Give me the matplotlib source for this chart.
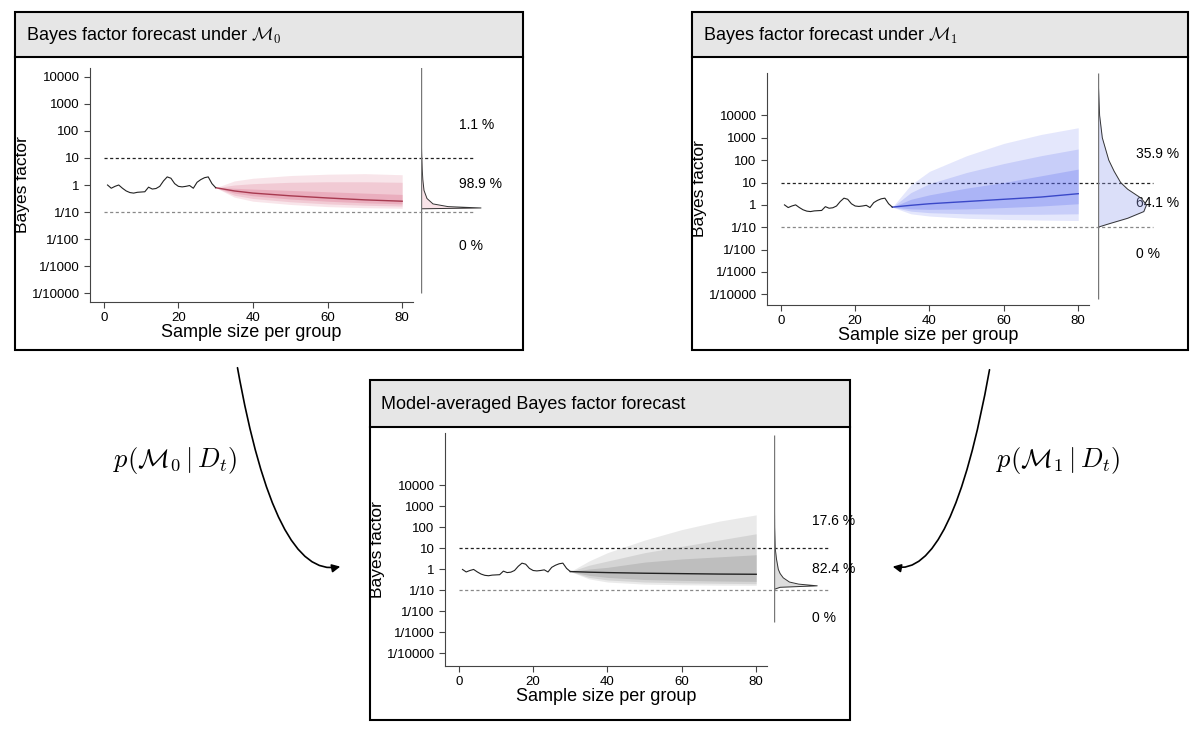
import numpy as np
import matplotlib
matplotlib.use('Agg')
import matplotlib.pyplot as plt
from matplotlib.patches import Rectangle, FancyArrowPatch

plt.rcParams['font.family'] = ['Liberation Sans', 'DejaVu Sans']
plt.rcParams['mathtext.fontset'] = 'cm'

W, H = 1200, 729

# observed Bayes factor path (log10), n = 1..30
n_obs = np.arange(1, 31)
bf_obs = [0.0, -0.12, -0.05, 0.0, -0.12, -0.22, -0.28, -0.3, -0.27, -0.26, -0.25, -0.08,
          -0.15, -0.13, -0.05, 0.15, 0.3, 0.25, 0.05, -0.05, -0.07, -0.05, -0.02, -0.12,
          0.1, 0.2, 0.27, 0.3, 0.05, -0.1]

# forecast grid
n_fc = [30, 35, 40, 50, 60, 70, 80]

# under M0 (log10 BF)
m0_med = [-0.1, -0.22, -0.3, -0.4, -0.48, -0.55, -0.6]
m0_bands = [([-0.1, -0.45, -0.6, -0.72, -0.8, -0.84, -0.86], [-0.1, 0.15, 0.25, 0.35, 0.4, 0.42, 0.38]),
            ([-0.1, -0.38, -0.5, -0.62, -0.7, -0.75, -0.78], [-0.1, 0.0, 0.05, 0.1, 0.12, 0.12, 0.1]),
            ([-0.1, -0.3, -0.4, -0.52, -0.6, -0.66, -0.7], [-0.1, -0.12, -0.15, -0.2, -0.25, -0.3, -0.35])]
m0_dy = [-0.88, -0.85, -0.8, -0.7, -0.5, -0.2, 0.2, 0.6, 1.2, 2.3]
m0_dd = [0.0, 1.0, 0.45, 0.2, 0.1, 0.05, 0.03, 0.02, 0.01, 0.0]

# under M1
m1_med = [-0.1, -0.02, 0.05, 0.15, 0.25, 0.35, 0.5]
m1_bands = [([-0.1, -0.4, -0.5, -0.6, -0.65, -0.68, -0.7], [-0.1, 0.9, 1.5, 2.2, 2.75, 3.15, 3.45]),
            ([-0.1, -0.28, -0.35, -0.4, -0.42, -0.42, -0.4], [-0.1, 0.55, 0.95, 1.45, 1.85, 2.2, 2.5]),
            ([-0.1, -0.18, -0.2, -0.18, -0.12, -0.05, 0.05], [-0.1, 0.25, 0.45, 0.75, 1.0, 1.3, 1.6])]
m1_dy = [-1.0, -0.85, -0.6, -0.3, 0.0, 0.3, 0.7, 1.0, 1.5, 2.0, 3.0, 4.0, 5.8]
m1_dd = [0.0, 0.2, 0.55, 0.85, 0.9, 0.8, 0.55, 0.42, 0.3, 0.2, 0.08, 0.03, 0.0]

# model-averaged
av_med = [-0.1, -0.13, -0.15, -0.18, -0.2, -0.22, -0.23]
av_bands = [([-0.1, -0.45, -0.6, -0.7, -0.73, -0.75, -0.76], [-0.1, 0.4, 0.8, 1.4, 1.9, 2.3, 2.6]),
            ([-0.1, -0.38, -0.5, -0.6, -0.64, -0.66, -0.68], [-0.1, 0.2, 0.4, 0.8, 1.1, 1.4, 1.7]),
            ([-0.1, -0.28, -0.38, -0.48, -0.52, -0.55, -0.57], [-0.1, 0.02, 0.1, 0.35, 0.5, 0.6, 0.7])]
av_dy = [-1.6, -0.95, -0.85, -0.78, -0.7, -0.6, -0.4, -0.2, 0.0, 0.5, 1.0, 2.0, 6.3]
av_dd = [0.0, 0.0, 0.1, 0.7, 0.4, 0.25, 0.15, 0.1, 0.07, 0.04, 0.02, 0.01, 0.0]

ticks = [4, 3, 2, 1, 0, -1, -2, -3, -4]
tick_labels = ['10000', '1000', '100', '10', '1', '1/10', '1/100', '1/1000', '1/10000']

fig = plt.figure(figsize=(12, 7.29), dpi=100)
over = fig.add_axes([0, 0, 1, 1])
over.set_xlim(0, W)
over.set_ylim(H, 0)
over.axis('off')


def px_axes(x0, y0, x1, y1):
    a = fig.add_axes([x0 / W, 1 - y1 / H, (x1 - x0) / W, (y1 - y0) / H])
    a.set_facecolor('none')
    return a


def panel(box, head, title, main, dens, ylim, med, bands, dy, dd, col, band_col, mcol,
          pct, pct_y, dline, dash_end):
    bx0, by0, bx1, by1 = box
    over.add_patch(Rectangle((bx0, by0), bx1 - bx0, head - by0, fc='#e6e6e6', ec='none'))
    over.add_patch(Rectangle((bx0, by0), bx1 - bx0, by1 - by0, fc='none', ec='black', lw=1.5))
    over.plot([bx0, bx1], [head, head], color='black', lw=1.5)
    over.text(bx0 + 11, (by0 + head) / 2 + 1, title, fontsize=13, va='center')

    ax = px_axes(*main)
    ax.set_xlim(-3.7, 82.9)
    ax.set_ylim(*ylim)
    for s in ['top', 'right']:
        ax.spines[s].set_visible(False)
    for s in ['left', 'bottom']:
        ax.spines[s].set_color('#444444')
    ax.set_yticks(ticks)
    ax.set_yticklabels(tick_labels)
    ax.set_xticks([0, 20, 40, 60, 80])
    ax.tick_params(labelsize=9.5, length=4, color='#444444')
    ax.set_xlabel('Sample size per group', fontsize=13, labelpad=0)
    ax.set_ylabel('Bayes factor', fontsize=12.5, labelpad=1)
    for a, (lo, hi) in zip([0.16, 0.2, 0.26], bands):
        ax.fill_between(n_fc, lo, hi, color=band_col, alpha=a, lw=0)
    ax.plot(n_fc, med, color=mcol, lw=1)
    ax.plot(n_obs, bf_obs, color='#222222', lw=0.8)

    # dashed thresholds across main and density area
    x0 = main[0]
    yb = main[1] + (main[3] - main[1]) * (ylim[1] - 1) / (ylim[1] - ylim[0])
    yt = main[1] + (main[3] - main[1]) * (ylim[1] + 1) / (ylim[1] - ylim[0])
    over.plot([x0 + 14, dash_end], [yb, yb], color='#222222', lw=0.9, ls=(0, (2.5, 2)))
    over.plot([x0 + 14, dash_end], [yt, yt], color='#888888', lw=0.9, ls=(0, (2.5, 2)))

    dx = px_axes(*dens)
    dx.set_ylim(*ylim)
    dx.set_xlim(0, 1.15)
    dx.axis('off')
    dx.fill_betweenx(dy, 0, dd, color=col, alpha=0.35, lw=0)
    dx.plot(dd, dy, color='#333333', lw=0.7)
    dx.vlines(0, dline[0], dline[1], color='#777777', lw=1)
    for p, yy in zip(pct, pct_y):
        over.text(dens[0] + 38, yy, p, fontsize=10, va='center')


panel((15, 12, 523, 350), 57, r'Bayes factor forecast under $\mathcal{M}_0$',
      (90, 68, 413, 302), (421, 68, 490, 302), (-4.33, 4.33),
      m0_med, m0_bands, m0_dy, m0_dd, '#f0b0bf', '#d9607f', '#a83a50',
      ['1.1 %', '98.9 %', '0 %'], [125, 184, 246], (-4.0, 4.5), 475)

panel((692, 12, 1188, 350), 57, r'Bayes factor forecast under $\mathcal{M}_1$',
      (767, 73, 1089, 305), (1098, 73, 1160, 305), (-4.48, 5.9),
      m1_med, m1_bands, m1_dy, m1_dd, '#9aa4f0', '#5a6af0', '#3a48c8',
      ['35.9 %', '64.1 %', '0 %'], [154, 203, 254], (-4.2, 5.9), 1153)

panel((370, 380, 850, 720), 427, 'Model-averaged Bayes factor forecast',
      (445, 433, 767, 666), (774, 433, 845, 666), (-4.6, 6.5),
      av_med, av_bands, av_dy, av_dd, '#a0a0a0', '#808080', '#222222',
      ['17.6 %', '82.4 %', '0 %'], [521, 569, 618], (-2.5, 6.4), 829)

over.add_patch(FancyArrowPatch((237, 365), (343, 566), connectionstyle='angle3,angleA=-80,angleB=15',
                               arrowstyle='-|>', mutation_scale=12, lw=1.2, color='black'))
over.add_patch(FancyArrowPatch((990, 367), (890, 566), connectionstyle='angle3,angleA=-100,angleB=165',
                               arrowstyle='-|>', mutation_scale=12, lw=1.2, color='black'))
over.text(175, 460, r'$p(\mathcal{M}_0\mid D_t)$', fontsize=19, ha='center', va='center')
over.text(1058, 460, r'$p(\mathcal{M}_1\mid D_t)$', fontsize=19, ha='center', va='center')

fig.savefig('out.png', dpi=100)
